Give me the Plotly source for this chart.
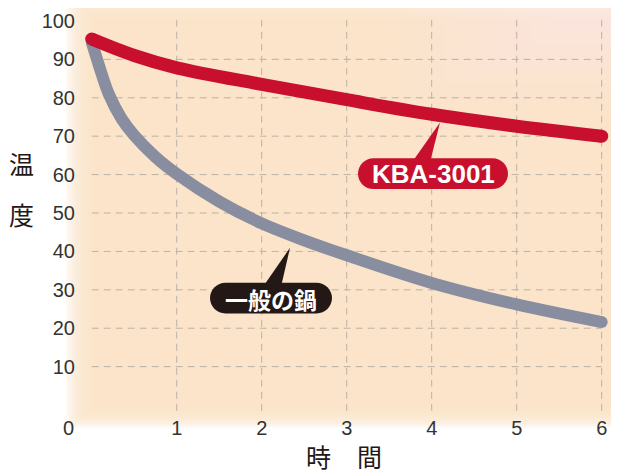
import plotly.graph_objects as go

# ---------------- data ----------------
hours_kba = [0, 0.5, 1, 2, 3, 4, 5, 6]
temp_kba = [95.3, 91.0, 87.8, 83.5, 79.5, 75.7, 72.6, 70.0]

hours_pot = [0, 0.1, 0.2, 0.35, 0.5, 0.75, 1, 1.5, 2, 2.5, 3, 4, 5, 6]
temp_pot = [94.5, 87.4, 81.0, 74.6, 70.2, 64.6, 60.2, 53.0, 47.3, 42.9, 39.0, 31.8, 26.2, 21.6]

x_ticks = [1, 2, 3, 4, 5, 6]
y_ticks = [10, 20, 30, 40, 50, 60, 70, 80, 90, 100]

RED = "#c8102e"
GRAY = "#888ea0"
INK = "#231815"
PEACH = "rgb(250,228,202)"
TICK_FONT = {"family": "Liberation Sans, Arial, sans-serif", "size": 20, "color": "#333"}
CJK = "Noto Sans CJK JP, sans-serif"

# geometry (screen pixels; the page body adds an 8px offset)
OFF = 8
W, H = 619 - OFF, 475 - OFF
L, R, T, B = 68, 2, 2, 61
X0PX, XPU = 91.7, 85.0      # screen x of hour 0, px per hour
Y0PX, YPU = 405.0, 3.86     # screen y of 0 degrees, px per degree


def dx(sx):
  return (sx - X0PX) / XPU


def dy(sy):
  return (Y0PX - sy) / YPU


def paper_x(sx):
  return (sx - OFF - L) / (W - L - R)


def paper_y(sy):
  return (H - B - (sy - OFF)) / (H - T - B)


def pill_path(x0, y0, x1, y1):
  r = (y1 - y0) / 2
  k = 0.5523 * r
  pts = [
    ("M", [(x0 + r, y0)]),
    ("L", [(x1 - r, y0)]),
    ("C", [(x1 - r + k, y0), (x1, y0 + r - k), (x1, y0 + r)]),
    ("C", [(x1, y0 + r + k), (x1 - r + k, y1), (x1 - r, y1)]),
    ("L", [(x0 + r, y1)]),
    ("C", [(x0 + r - k, y1), (x0, y0 + r + k), (x0, y0 + r)]),
    ("C", [(x0, y0 + r - k), (x0 + r - k, y0), (x0 + r, y0)]),
  ]
  s = ""
  for cmd, p in pts:
    s += cmd + " " + " ".join(f"{dx(a):.4f},{dy(b):.4f}" for a, b in p) + " "
  return s + "Z"


def tri_path(p):
  return "M " + " L ".join(f"{dx(a):.4f},{dy(b):.4f}" for a, b in p) + " Z"


def soft_rect(outer, inner, n, color, opacity):
  out = []
  for i in range(n):
    f = i / (n - 1)
    x0 = outer[0] + (inner[0] - outer[0]) * f
    y0 = outer[1] + (inner[1] - outer[1]) * f
    x1 = outer[2] + (inner[2] - outer[2]) * f
    y1 = outer[3] + (inner[3] - outer[3]) * f
    out.append(dict(
      type="rect", xref="paper", yref="paper", layer="below",
      x0=paper_x(x0), x1=paper_x(x1), y0=paper_y(y1), y1=paper_y(y0),
      fillcolor=color, opacity=opacity, line={"width": 0},
    ))
  return out


fig = go.Figure()

# soft peach background with feathered edges, a little lighter toward the top right
shapes = soft_rect((66, -6, 630, 428), (102, 24, 606, 402), 14, PEACH, 0.22)
shapes += soft_rect((630, -20, 660, 0), (380, -20, 660, 110), 24, "white", 0.028)

# dashed grid
grid = {"color": "#bcb2a6", "width": 1, "dash": "7px,5px"}
for v in y_ticks[:-1]:
  shapes.append(dict(type="line", xref="x", yref="y", layer="below",
                     x0=0, x1=6, y0=v, y1=v, line=grid))
for v in x_ticks:
  shapes.append(dict(type="line", xref="x", yref="y", layer="below",
                     x0=v, x1=v, y0=-1.5, y1=100.5, line=grid))

# callouts
shapes.append(dict(type="path", xref="x", yref="y", layer="above",
                   path=pill_path(358, 157, 508, 188), fillcolor=RED, line={"width": 0}))
shapes.append(dict(type="path", xref="x", yref="y", layer="above",
                   path=tri_path([(412, 161), (430, 161), (440, 121)]), fillcolor=RED, line={"width": 0}))
shapes.append(dict(type="path", xref="x", yref="y", layer="above",
                   path=pill_path(210, 282, 332, 313), fillcolor=INK, line={"width": 0}))
shapes.append(dict(type="path", xref="x", yref="y", layer="above",
                   path=tri_path([(263, 286), (281, 286), (290, 247)]), fillcolor=INK, line={"width": 0}))

# curves (gray first, red on top), round end caps as markers
for xs, ys, col, w in [(hours_pot, temp_pot, GRAY, 12), (hours_kba, temp_kba, RED, 13)]:
  fig.add_trace(go.Scatter(
    x=xs, y=ys, mode="lines",
    line={"color": col, "width": w, "shape": "spline", "smoothing": 1.0},
    hoverinfo="skip", showlegend=False,
  ))
  fig.add_trace(go.Scatter(
    x=[xs[0], xs[-1]], y=[ys[0], ys[-1]], mode="markers",
    marker={"color": col, "size": w, "line": {"width": 0}},
    hoverinfo="skip", showlegend=False,
  ))

annots = [
  dict(x=dx(433), y=dy(173), xref="x", yref="y", text="<b>KBA-3001</b>",
       font={"family": "Liberation Sans, Arial, sans-serif", "size": 26, "color": "white"}),
  dict(x=dx(271), y=dy(298), xref="x", yref="y", text="<b>一般の鍋</b>",
       font={"family": CJK, "size": 23, "color": "white"}),
  dict(x=paper_x(68), y=paper_y(428), text="0", font=TICK_FONT),
  dict(x=paper_x(21), y=paper_y(162), text="温", font={"family": CJK, "size": 25, "color": INK}),
  dict(x=paper_x(21), y=paper_y(213), text="度", font={"family": CJK, "size": 25, "color": INK}),
  dict(x=paper_x(318), y=paper_y(456), text="時", font={"family": CJK, "size": 25, "color": INK}),
  dict(x=paper_x(369), y=paper_y(456), text="間", font={"family": CJK, "size": 25, "color": INK}),
]
for a in annots:
  a.setdefault("xref", "paper")
  a.setdefault("yref", "paper")
  a.update(showarrow=False, xanchor="center", yanchor="middle")

fig.update_layout({
  "width": W, "height": H,
  "margin": {"l": L, "r": R, "t": T, "b": B},
  "paper_bgcolor": "white",
  "plot_bgcolor": "rgba(0,0,0,0)",
  "shapes": shapes,
  "annotations": annots,
  "xaxis": {
    "range": [dx(OFF + L), dx(OFF + W - R)], "showgrid": False, "zeroline": False,
    "showline": False, "tickvals": x_ticks, "ticks": "", "tickfont": TICK_FONT,
  },
  "yaxis": {
    "range": [dy(OFF + H - B), dy(OFF + T)], "showgrid": False, "zeroline": False,
    "showline": False, "tickvals": y_ticks, "ticks": "", "tickfont": TICK_FONT,
  },
})

fig.write_html("out.html")
